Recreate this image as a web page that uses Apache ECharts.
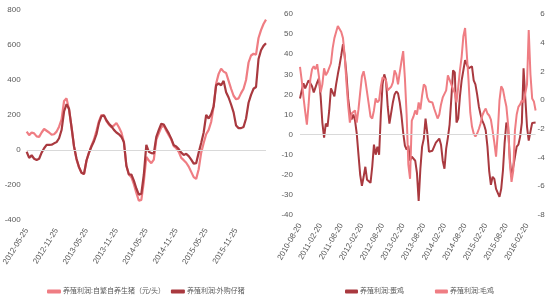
<!DOCTYPE html>
<html>
<head>
<meta charset="utf-8">
<script src="https://cdn.jsdelivr.net/npm/echarts@6/dist/echarts.min.js"></script>
<style>
html,body{margin:0;padding:0;background:#fff;}
#c{width:550px;height:300px;}
</style>
</head>
<body>
<div id="c"></div>
<script>
// ---- Left panel: pig farming profit (yuan/head), semi-monthly from 2012-05-25 ----
var pigStart = [2012, 5, 25, 10];   // year, month, day, alternate day (next month)
var pigCount = 97;
var pigSelfBred = [105,85,100,95,78,75,100,120,110,100,
  88,90,105,133,175,280,295,230,130,20,
  -55,-100,-130,-137,-60,-15,25,60,110,165,
  200,195,165,145,130,140,154,130,100,45,
  -90,-140,-155,-195,-245,-290,-285,-180,-40,-60,
  -75,-55,60,95,130,140,110,85,60,22,
  10,-10,-45,-58,-73,-95,-125,-155,-165,-110,
  -15,40,90,115,160,250,380,435,465,448,
  440,395,350,310,290,295,325,350,400,500,
  540,550,545,640,685,720,745];
var pigPurchased = [-10,-45,-30,-50,-57,-50,-15,10,29,29,
  30,38,45,67,114,220,262,235,130,20,
  -50,-98,-130,-137,-60,-15,20,50,90,155,
  193,198,170,150,135,115,100,90,75,45,
  -90,-140,-140,-175,-220,-255,-250,-140,30,-10,
  -18,-20,75,115,150,145,120,95,65,28,
  20,5,-15,-28,-22,-35,-55,-78,-75,-15,
  40,100,200,180,205,250,370,380,370,395,
  330,300,260,215,140,125,125,132,180,270,
  315,350,360,520,570,595,610];
var pigTicks = [-400,800,200];

// ---- Right panel: poultry profit, semi-monthly from 2010-08-20 ----
var henStart = [2010, 8, 20, 5];
var henCount = 138;
var eggHen = [18,22,25.5,23,25,27,27,24,21,21,
  26,28,19,6,-1.5,5.5,4,12,23,21,
  19,25,30,34.5,39.5,45,39,30,18,11,
  7.5,10,7,0.5,-10,-20,-25.5,-21,-16,-22.5,
  -23,-24,-16,-5,-10,-6,-10,10,25,30,
  27,14,5.5,5,16,20,21.5,20.5,16,9.5,
  1,-5.5,-7.5,-5.5,-13,-11,-11.2,-13,-19,-33,
  -17,-6,-2,8,1,-8.5,-9,-8,-7.5,-4,
  -3,-2,-5,-13,-17,-7,-1.5,5,18,32,
  31,6,8,19,27,32,37,35,33,32.5,
  34,27,25,20,14,10,7,5,2,-6,
  -18,-25,-21,-22,-27,-29,-31,-27,-18,-4,
  6,4,-12,-21,-16,-11,-6,-5,-1,6,
  33,33,4,-3,1.5,5.8,5,6];
var broiler = [2.32,1.38,0.23,-0.79,-1.70,-0.30,1.45,2.15,2.36,2.15,
  2.50,1.66,0.54,1.10,2.22,1.73,1.94,2.01,2.57,3.62,
  4.32,4.74,5.16,4.95,4.74,4.32,3.06,1.24,-0.37,-1.56,
  -0.93,-1.00,-0.72,-1.56,-0.65,0.54,1.66,2.01,1.38,0.54,
  -0.30,-1.14,-1.28,-0.72,0.12,-0.16,-0.02,0.96,1.59,1.70,
  1.38,0.68,0.75,0.93,1.24,2.08,1.80,1.10,1.94,2.71,
  3.41,1.52,-1.00,-4.50,-5.48,-1.42,-1.14,-0.72,-1.00,-0.16,
  -0.65,0.33,1.10,0.96,0.19,-0.09,-0.02,-0.16,-0.58,-0.93,
  -1.28,-1.00,-0.30,0.19,0.12,0.68,1.73,1.73,1.10,0.75,
  0.51,-0.16,0.89,2.08,3.02,4.46,5.02,3.20,1.38,-0.86,
  -1.84,-2.33,-2.54,-2.33,-2.01,-1.63,-1.07,-0.79,-0.58,-0.93,
  -1.07,-1.35,-2.12,-2.96,-3.94,-2.26,-0.02,0.96,0.75,0.12,
  -0.44,-1.70,-4.36,-5.69,-4.92,-2.09,-1.00,-0.47,-0.30,-0.02,
  -0.16,-0.16,1.10,4.88,1.80,0.12,-0.09,-0.72];
var henTicksLeft = [-40,60,10];
var henTicksRight = [-8,6,2];

var names = ['养殖利润:自繁自养生猪（元/头）','养殖利润:外购仔猪','养殖利润:蛋鸡','养殖利润:毛鸡'];

function pad(n){return (n<10?'0':'')+n;}
function semiMonthly(s, count){
  var out=[], y=s[0], m=s[1];
  for(var i=0;i<count;i++){
    if(i%2===0){ out.push(y+'-'+pad(m)+'-'+pad(s[2])); m++; if(m>12){m=1;y++;} }
    else { out.push(y+'-'+pad(m)+'-'+pad(s[3])); }
  }
  return out;
}
var pigDates = semiMonthly(pigStart, pigCount);
var henDates = semiMonthly(henStart, henCount);

var LIGHT = '#EF7D83', DARK = '#A9393F', TXT = '#595959', ZERO = '#D9D9D9';
var FONT = '"Liberation Sans", "Noto Sans CJK SC", sans-serif';

function xAx(grid, data, rot){
  return {type:'category', gridIndex:grid, data:data, boundaryGap:false,
    axisLine:{show:false}, axisTick:{show:false}, splitLine:{show:false},
    axisLabel:{rotate:rot, margin:9, fontSize:8, color:TXT, fontFamily:FONT, hideOverlap:false,
      interval:function(idx){ return idx%12===0 && idx<=132 && !(grid===0 && idx>84); }}};
}
function yAx(grid, t, pos, align, margin){
  return {type:'value', gridIndex:grid, min:t[0], max:t[1], interval:t[2], position:pos,
    axisLine:{show:false}, axisTick:{show:false}, splitLine:{show:false},
    axisLabel:{fontSize:8, color:TXT, fontFamily:FONT, margin:margin, align:align}};
}
var zeroMark = {silent:true, symbol:'none', label:{show:false},
  lineStyle:{color:ZERO, type:'solid', width:1}, data:[{yAxis:0}]};

var chart = echarts.init(document.getElementById('c'), null, {renderer:'canvas'});
chart.setOption({
  animation:false,
  backgroundColor:'#fff',
  textStyle:{fontFamily:FONT},
  grid:[
    {left:26, top:10, width:240, height:210},
    {left:300, top:14, width:235.6, height:201}
  ],
  xAxis:[xAx(0, pigDates, 58), xAx(1, henDates, 60)],
  yAxis:[yAx(0, pigTicks, 'left', 'right', 6), yAx(1, henTicksLeft, 'left', 'right', 7), yAx(1, henTicksRight, 'right', 'right', 9)],
  legend:[
    {data:[names[0], names[1]], left:42, top:283, icon:'roundRect', itemWidth:14, itemHeight:4, itemGap:6,
      textStyle:{fontSize:7, color:TXT, fontFamily:FONT, padding:[0,0,0,-3]}},
    {data:[names[2], names[3]], left:340, top:283, icon:'roundRect', itemWidth:13, itemHeight:4, itemGap:31,
      textStyle:{fontSize:7, color:TXT, fontFamily:FONT, padding:[0,0,0,-3]}}
  ],
  series:[
    {name:names[0], type:'line', xAxisIndex:0, yAxisIndex:0, data:pigSelfBred, showSymbol:false, symbol:'none',
      lineStyle:{color:LIGHT, width:2.2}, itemStyle:{color:LIGHT}, markLine:zeroMark},
    {name:names[1], type:'line', xAxisIndex:0, yAxisIndex:0, data:pigPurchased, showSymbol:false, symbol:'none',
      lineStyle:{color:DARK, width:2.2}, itemStyle:{color:DARK}},
    {name:names[2], type:'line', xAxisIndex:1, yAxisIndex:1, data:eggHen, showSymbol:false, symbol:'none',
      lineStyle:{color:DARK, width:2}, itemStyle:{color:DARK}, markLine:zeroMark},
    {name:names[3], type:'line', xAxisIndex:1, yAxisIndex:2, data:broiler, showSymbol:false, symbol:'none',
      lineStyle:{color:LIGHT, width:2}, itemStyle:{color:LIGHT}}
  ]
});
</script>
</body>
</html>
